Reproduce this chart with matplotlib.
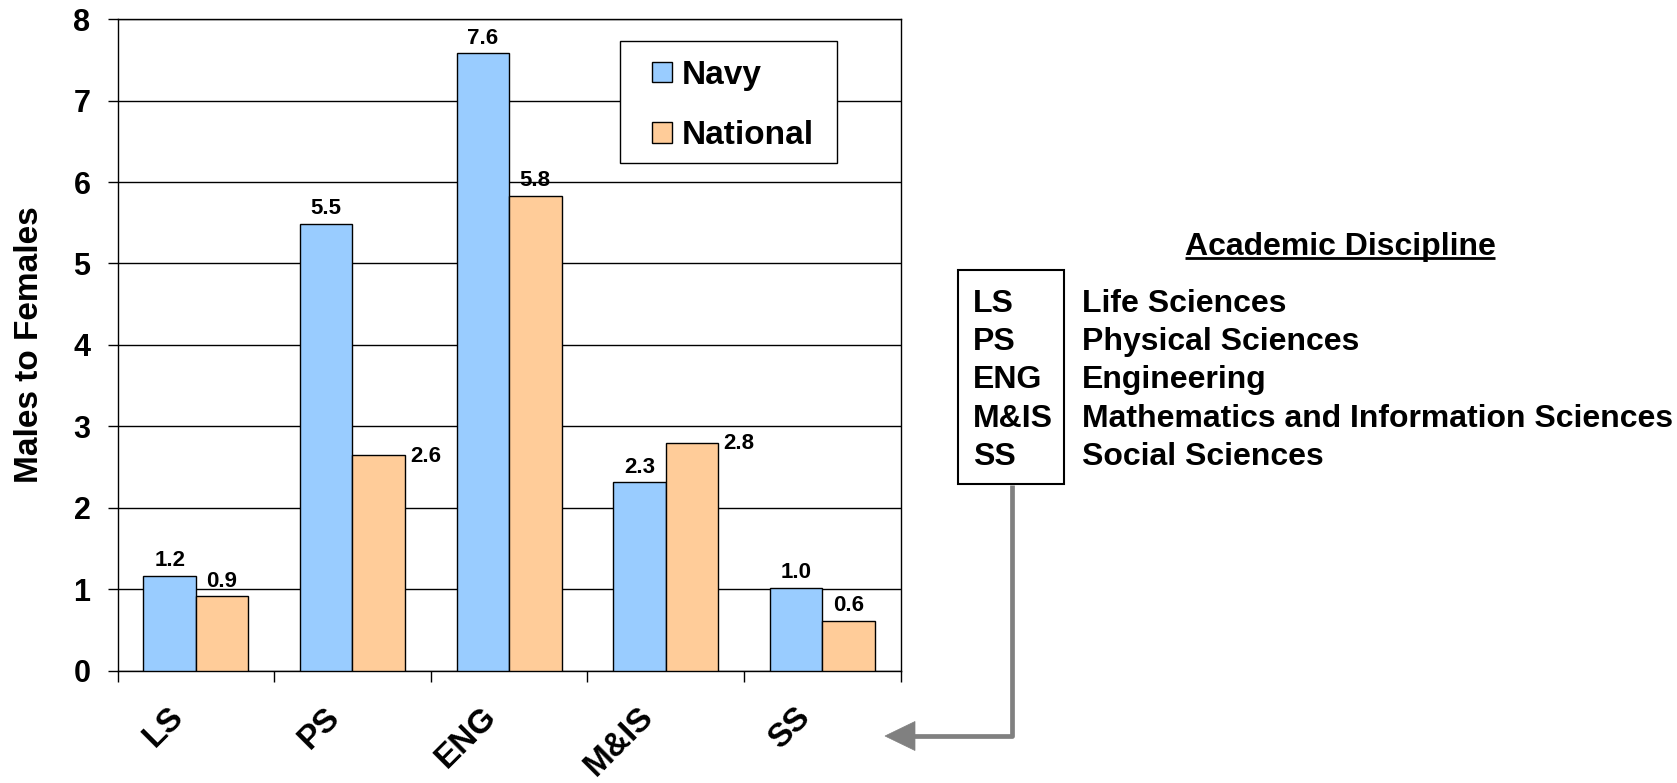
import matplotlib
matplotlib.use("Agg")
import matplotlib.pyplot as plt
from matplotlib.transforms import ScaledTranslation
from matplotlib.patches import Rectangle, Polygon
import numpy as np

# ---------------- data ----------------
categories = ["LS", "PS", "ENG", "M&IS", "SS"]
series_names = ["Navy", "National"]
navy = [1.16, 5.49, 7.58, 2.31, 1.02]
national = [0.91, 2.65, 5.83, 2.80, 0.61]
y_ticks = [0, 1, 2, 3, 4, 5, 6, 7, 8]
y_label = "Males to Females"
key_title = "Academic Discipline"
key_abbr = ["LS", "PS", "ENG", "M&IS", "SS"]
key_names = ["Life Sciences", "Physical Sciences", "Engineering",
             "Mathematics and Information Sciences", "Social Sciences"]
# national labels drawn beside the bar instead of above it
national_side = [False, True, False, True, False]

# ---------------- style ----------------
plt.rcParams['font.family'] = ['Liberation Sans', 'DejaVu Sans']
plt.rcParams['font.weight'] = 'bold'
NAVY_C = '#99CCFF'
NAT_C = '#FFCC99'

W, H = 1677, 783
fig = plt.figure(figsize=(W / 100, H / 100), dpi=100)
ax = fig.add_axes([0.0701, 0.1436, 0.4669, 0.8318])

x = np.arange(len(categories))
bw = 0.335
b1 = ax.bar(x - bw / 2, navy, bw, color=NAVY_C, edgecolor='black', linewidth=1,
            label=series_names[0], zorder=3)
b2 = ax.bar(x + bw / 2, national, bw, color=NAT_C, edgecolor='black', linewidth=1,
            label=series_names[1], zorder=3)

lab_kw = dict(fontsize=16, fontweight='bold', textcoords='offset points', zorder=4)
for rect, v in zip(b1, navy):
    ax.annotate(f"{v:.1f}", (rect.get_x() + rect.get_width() / 2, v), xytext=(0, 3.5),
                ha='center', va='bottom', **lab_kw)
for rect, v, side in zip(b2, national, national_side):
    if side:
        ax.annotate(f"{v:.1f}", (rect.get_x() + rect.get_width(), v), xytext=(4, -1),
                    ha='left', va='center', **lab_kw)
    else:
        ax.annotate(f"{v:.1f}", (rect.get_x() + rect.get_width() / 2, v), xytext=(0, 3.5),
                    ha='center', va='bottom', **lab_kw)

ax.set_ylim(y_ticks[0], y_ticks[-1])
ax.set_yticks(y_ticks)
ax.set_yticklabels([str(t) for t in y_ticks], fontsize=22, fontweight='bold')
ax.tick_params(axis='y', direction='out', length=7.5, width=1, pad=12)
ax.yaxis.grid(True, color='black', linewidth=1)
ax.set_axisbelow(True)

ax.set_xlim(-0.5, len(categories) - 0.5)
ax.set_xticks(np.arange(-0.5, len(categories), 1.0))
ax.set_xticklabels([])
ax.set_xticks(x, minor=True)
ax.set_xticklabels(categories, minor=True, rotation=45, ha='right', va='center',
                   rotation_mode='anchor', fontsize=24, fontweight='bold')
ax.tick_params(axis='x', which='major', direction='out', length=8, width=1)
ax.tick_params(axis='x', which='minor', length=0, pad=30)
off = ScaledTranslation(-17 / 100, 0, fig.dpi_scale_trans)
for lab in ax.get_xticklabels(minor=True):
    lab.set_transform(lab.get_transform() + off)

for s in ax.spines.values():
    s.set_color('black')
    s.set_linewidth(1)

ax.set_ylabel(y_label, fontsize=24, fontweight='bold')
ax.yaxis.set_label_coords(-0.093, 0.5)

# legend: contents without frame, frame drawn separately
leg = ax.legend(loc='upper left', bbox_to_anchor=(0.683, 0.938),
                prop={'size': 24, 'weight': 'bold'}, frameon=False,
                borderpad=0, labelspacing=0.88,
                handlelength=0.58, handleheight=0.58, handletextpad=0.3,
                borderaxespad=0)
for h in leg.legend_handles:
    h.set_edgecolor('black')
    h.set_linewidth(1)
ax.add_patch(Rectangle((0.642, 0.780), 0.277, 0.187, transform=ax.transAxes,
                       facecolor='white', edgecolor='black', lw=1, zorder=4.5))
leg.set_zorder(5)

# ---------------- right-hand key (pixel overlay) ----------------
ov = fig.add_axes([0, 0, 1, 1])
ov.set_xlim(0, W)
ov.set_ylim(H, 0)
ov.axis('off')

t = ov.text(1340, 254.5, key_title, ha='center', va='baseline', fontsize=23,
            fontweight='bold')
fig.canvas.draw()
bb = t.get_window_extent(fig.canvas.get_renderer())
ov.plot([bb.x0, bb.x1], [258, 258], color='black', lw=2, solid_capstyle='butt')

ov.add_patch(Rectangle((958, 270), 106, 214, fill=False, edgecolor='black', lw=1.5))
row0, dy = 312, 38.2
for i, (a, n) in enumerate(zip(key_abbr, key_names)):
    ov.text(973, row0 + i * dy, a, ha='left', va='baseline', fontsize=23, fontweight='bold')
    ov.text(1082, row0 + i * dy, n, ha='left', va='baseline', fontsize=23, fontweight='bold')

GRAY = '#808080'
ov.plot([1012.5, 1012.5, 910], [485, 736, 736], color=GRAY, lw=3.4,
        solid_joinstyle='round', solid_capstyle='butt')
ov.add_patch(Polygon([[885, 736], [915, 721.5], [915, 750.5]], closed=True,
                     facecolor=GRAY, edgecolor=GRAY, lw=0.5))

fig.savefig('out.png', dpi=100)
